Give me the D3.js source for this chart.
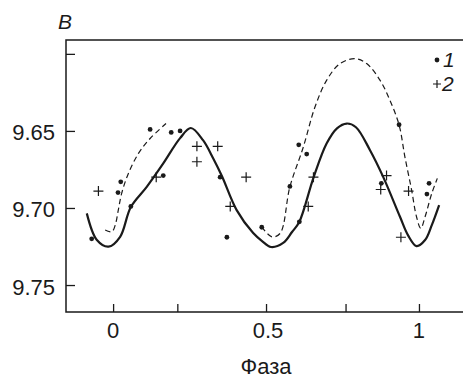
<!DOCTYPE html>
<html>
<head>
<meta charset="utf-8">
<script src="https://cdn.jsdelivr.net/npm/d3@7"></script>
<style>
  body { margin: 0; background: #fff; }
  svg { display: block; font-family: "Liberation Sans", Arial, sans-serif; }
</style>
</head>
<body>
<svg id="chart" width="463" height="379"></svg>
<script>
// phase / magnitude readings
const dotsPhase = [-0.070, 0.025, 0.016, 0.058, 0.121, 0.164, 0.190, 0.219, 0.350, 0.372,
                   0.486, 0.607, 0.633, 0.578, 0.609, 0.935, 0.877, 1.033, 1.026];
const dotsMag   = [9.720, 9.683, 9.690, 9.699, 9.649, 9.679, 9.651, 9.650, 9.680, 9.719,
                   9.7125, 9.659, 9.665, 9.686, 9.709, 9.646, 9.684, 9.684, 9.691];

const crossPhase = [-0.048, 0.141, 0.274, 0.342, 0.274, 0.435, 0.383, 0.655, 0.638,
                    0.894, 0.875, 0.966, 0.941];
const crossMag   = [9.689, 9.680, 9.660, 9.660, 9.670, 9.680, 9.699, 9.680, 9.699,
                    9.679, 9.688, 9.689, 9.719];

// model curve (solid)
const solidPhase = [-0.086, -0.053, -0.015, 0.023, 0.058, 0.110, 0.164, 0.219, 0.254, 0.294,
                    0.327, 0.356, 0.404, 0.458, 0.487, 0.516, 0.556, 0.585, 0.609, 0.655,
                    0.698, 0.732, 0.764, 0.794, 0.840, 0.883, 0.938, 0.964, 0.992, 1.020,
                    1.042, 1.066];
const solidMag   = [9.7035, 9.7208, 9.7251, 9.7187, 9.6994, 9.6863, 9.6711, 9.6547, 9.6481, 9.6560,
                    9.6677, 9.6794, 9.7014, 9.7163, 9.7215, 9.7253, 9.7227, 9.7156, 9.7089, 9.6804,
                    9.6582, 9.6483, 9.6452, 9.6476, 9.6625, 9.6798, 9.7057, 9.7176, 9.7247, 9.7208,
                    9.7111, 9.6981];

// dashed curve, two pieces
const dashAPhase = [-0.026, -0.004, 0.007, 0.017, 0.028, 0.050, 0.083, 0.121, 0.173];
const dashAMag   = [9.7143, 9.7154, 9.7111, 9.7014, 9.6905, 9.6776, 9.6646, 9.6549, 9.6452];
const dashBPhase = [0.486, 0.519, 0.546, 0.578, 0.622, 0.660, 0.698, 0.742, 0.791, 0.829,
                    0.873, 0.905, 0.935, 0.954, 0.976, 0.992, 1.006, 1.020, 1.042, 1.060];
const dashBMag   = [9.7122, 9.7187, 9.7165, 9.6863, 9.6604, 9.6345, 9.6172, 9.6063, 9.6031, 9.6063,
                    9.6172, 9.6301, 9.6461, 9.6668, 9.6884, 9.7057, 9.7132, 9.7057, 9.6905, 9.6808];

const xTicks = [0, 0.21, 0.5, 0.76, 1];
const xLabels = {0: "0", 0.5: "0.5", 1: "1"};
const yTicks = [9.60, 9.65, 9.70, 9.75];
const yLabels = {9.65: "9.65", 9.70: "9.70", 9.75: "9.75"};

const svg = d3.select("#chart");
const mLeft = 66, mRight = 463, mTop = 40, mBottom = 312;

const x = d3.scaleLinear().domain([-0.154, 1.144]).range([mLeft, mRight]);
const y = d3.scaleLinear().domain([9.591, 9.7675]).range([mTop, mBottom]);

const ink = "#1a1a1a";

// axes (ticks point inward)
svg.append("g")
  .attr("transform", "translate(0," + mBottom + ")")
  .call(d3.axisTop(x).tickValues(xTicks).tickSize(8).tickFormat(""))
  .call(g => g.select(".domain").remove())
  .selectAll("line").attr("stroke", ink).attr("stroke-width", 1.3);

svg.append("g")
  .attr("transform", "translate(" + mLeft + ",0)")
  .call(d3.axisRight(y).tickValues(yTicks).tickSize(9).tickFormat(""))
  .call(g => g.select(".domain").remove())
  .selectAll("line").attr("stroke", ink).attr("stroke-width", 1.3);

// frame: left, bottom, top
svg.append("path")
  .attr("d", "M" + mRight + "," + mTop + "H" + mLeft + "V" + mBottom + "H" + mRight)
  .attr("fill", "none")
  .attr("stroke", ink)
  .attr("stroke-width", 1.5);

// tick labels
svg.selectAll(".xl").data(xTicks.filter(d => xLabels[d] !== undefined))
  .enter().append("text")
  .attr("x", d => x(d) + (d === 0.5 ? 2 : 0))
  .attr("y", 338)
  .attr("text-anchor", "middle")
  .attr("font-size", 22)
  .attr("fill", ink)
  .text(d => xLabels[d]);

svg.selectAll(".yl").data(yTicks.filter(d => yLabels[d] !== undefined))
  .enter().append("text")
  .attr("x", 55)
  .attr("y", d => y(d) + 9.5)
  .attr("text-anchor", "end")
  .attr("font-size", 22)
  .attr("fill", ink)
  .text(d => yLabels[d]);

svg.append("text")
  .attr("x", 266)
  .attr("y", 374)
  .attr("text-anchor", "middle")
  .attr("font-size", 22)
  .attr("fill", ink)
  .text("Фаза");

svg.append("text")
  .attr("x", 58)
  .attr("y", 29)
  .attr("font-size", 21)
  .attr("font-style", "italic")
  .attr("fill", ink)
  .text("B");

// curves
const line = d3.line()
  .x(d => x(d[0]))
  .y(d => y(d[1]))
  .curve(d3.curveCatmullRom.alpha(0.5));

svg.append("path")
  .attr("d", line(d3.zip(solidPhase, solidMag)))
  .attr("fill", "none")
  .attr("stroke", ink)
  .attr("stroke-width", 2.2);

[[dashAPhase, dashAMag], [dashBPhase, dashBMag]].forEach(function(s){
  svg.append("path")
    .attr("d", line(d3.zip(s[0], s[1])))
    .attr("fill", "none")
    .attr("stroke", ink)
    .attr("stroke-width", 1.2)
    .attr("stroke-dasharray", "5.5,3.5");
});

// points
svg.selectAll(".dot").data(d3.zip(dotsPhase, dotsMag))
  .enter().append("circle")
  .attr("cx", d => x(d[0]))
  .attr("cy", d => y(d[1]))
  .attr("r", 2.4)
  .attr("fill", ink);

svg.selectAll(".cross").data(d3.zip(crossPhase, crossMag))
  .enter().append("path")
  .attr("d", d => "M" + (x(d[0]) - 5) + "," + y(d[1]) + "h10M" + x(d[0]) + "," + (y(d[1]) - 5) + "v10")
  .attr("stroke", ink)
  .attr("stroke-width", 1.2);

// legend
svg.append("circle").attr("cx", 437).attr("cy", 60).attr("r", 2.4).attr("fill", ink);
svg.append("text").attr("x", 443).attr("y", 67).attr("font-size", 21)
  .attr("font-style", "italic").attr("fill", ink).text("1");
svg.append("path").attr("d", "M433,84h8M437,80v8").attr("stroke", ink).attr("stroke-width", 1.2);
svg.append("text").attr("x", 442).attr("y", 91).attr("font-size", 21)
  .attr("font-style", "italic").attr("fill", ink).text("2");
</script>
</body>
</html>
